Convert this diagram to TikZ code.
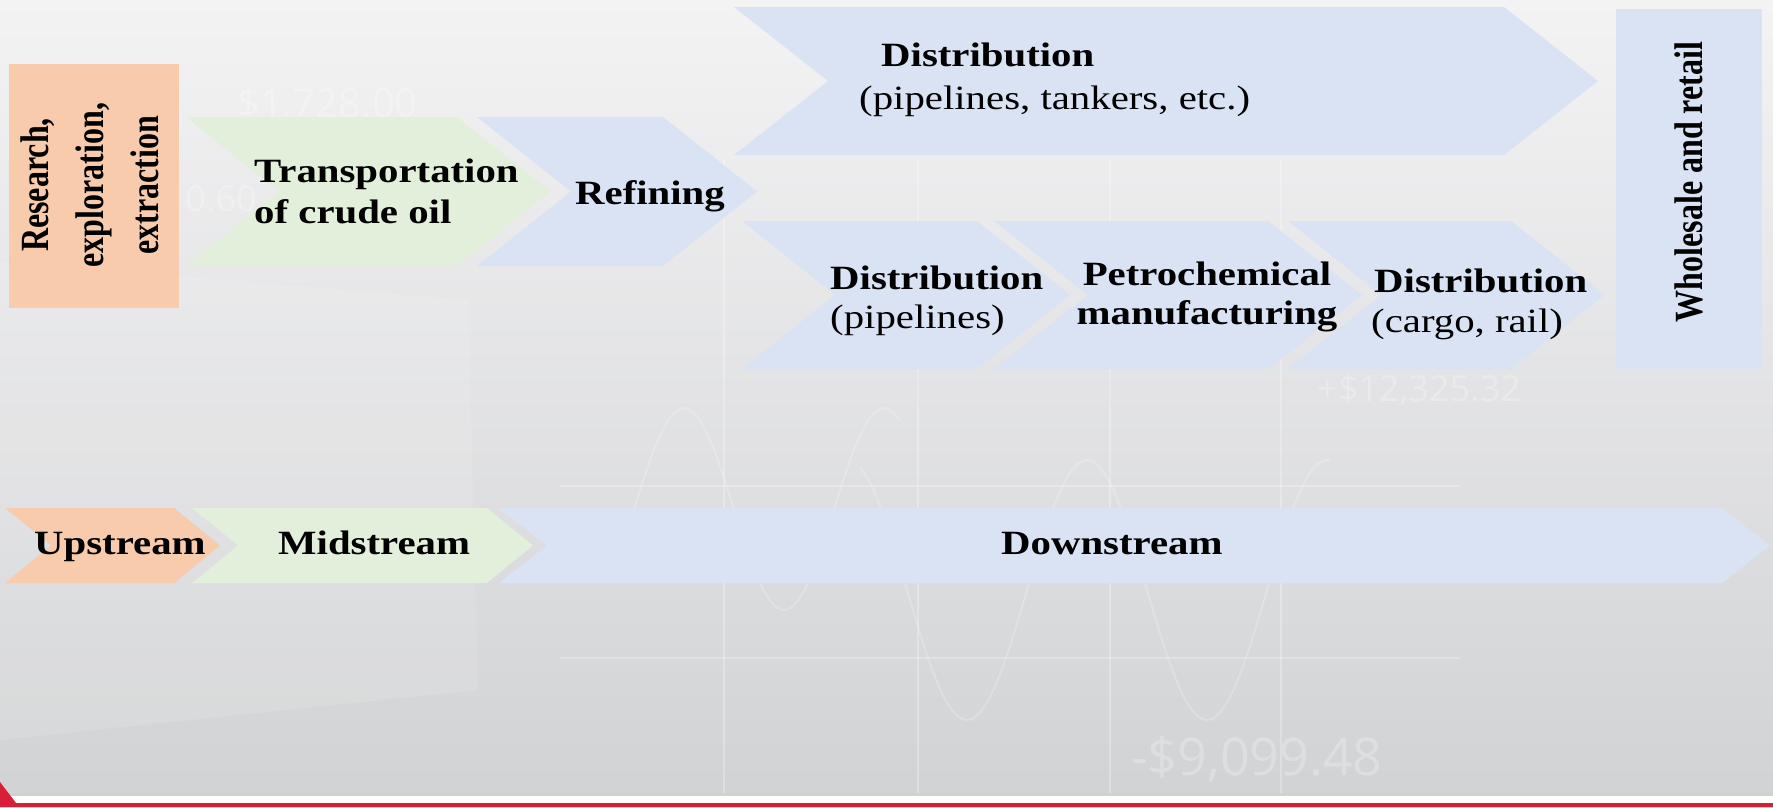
\documentclass[tikz,border=0pt]{standalone}
\usepackage{fontspec}
\setmainfont{Liberation Serif}
\newfontfamily\hfont[FakeStretch=1.2]{Liberation Serif}
\newfontfamily\numfont{Open Sans}

\definecolor{orangeF}{RGB}{248,203,173}
\definecolor{greenF}{RGB}{226,239,218}
\definecolor{blueF}{RGB}{218,227,243}
\definecolor{bgtop}{RGB}{243,243,244}
\definecolor{bgbot}{RGB}{209,210,212}
\definecolor{redbar}{RGB}{216,30,56}
\definecolor{greenline}{RGB}{200,214,204}

\newcommand\chevshape[6]{%
  \fill[#1] (#2,#4) -- (#3,#4) -- ({#3+#6},{(#4+#5)/2}) -- (#3,#5) -- (#2,#5) -- ({#2+#6},{(#4+#5)/2}) -- cycle;}

\tikzset{
  lbl/.style={font=\hfont\fontsize{34}{41}\selectfont\bfseries, inner sep=0pt, text=black},
  lblr/.style={font=\hfont\fontsize{34}{41}\selectfont, inner sep=0pt, text=black},
  vlbl/.style={rotate=90, inner sep=0pt, text=black, font=\fontsize{32}{44}\selectfont\bfseries},
  deco/.style={white, opacity=0.28, line width=2pt},
  ghost/.style={text=white, text opacity=0.25, inner sep=0pt},
}

\begin{document}
\begin{tikzpicture}[x=1pt, y=-1pt]
\useasboundingbox (0,0) rectangle (1773,807);

% background
\shade[top color=bgtop, bottom color=bgbot] (0,0) rectangle (1773,807);
\fill[white, opacity=0.1] (0,262) -- (468,300) -- (478,690) -- (0,740) -- cycle;

% faint chart grid and curves
\foreach \gx in {724,918,1110,1281} {\draw[deco] (\gx,160) -- (\gx,793);}
\foreach \gy in {486,658} {\draw[deco] (560,\gy) -- (1460,\gy);}
\draw[deco, opacity=0.2] plot[smooth, domain=620:900, samples=50] (\x, {509 - 101*cos((\x-684)*1.8)});
\draw[deco, opacity=0.2] plot[smooth, domain=860:1330, samples=60] (\x, {590 + 130*cos((\x-967)*1.5)});

% faint numbers
\node[ghost, anchor=base west, font=\numfont\fontsize{40}{40}\selectfont] (g1) at (237,117) {\$1,728.00};
\node[ghost, anchor=base east, font=\numfont\fontsize{36}{36}\selectfont] (g2) at (257,211) {0.60};
\node[ghost, anchor=base west, font=\numfont\fontsize{36}{36}\selectfont] (g3) at (1317,401) {+\$12,325.32};
\node[ghost, anchor=base west, font=\numfont\fontsize{52}{52}\selectfont] (g4) at (1131,775) {-\$9,099.48};

% boxes and chevrons (top)
\fill[orangeF] (9,64) rectangle (179,308);
\chevshape{greenF}{186}{457}{117}{266}{93}
\chevshape{blueF}{477}{663}{117}{266}{94}
\chevshape{blueF}{734}{1504}{7}{155}{94}
\chevshape{blueF}{742}{977}{221}{369}{93}
\chevshape{blueF}{994}{1268}{221}{369}{94}
\chevshape{blueF}{1288}{1511}{221}{369}{93}
\fill[blueF] (1616,9) rectangle (1762,369);

% chevrons (bottom)
\chevshape{orangeF}{5}{174}{508}{583}{46}
\chevshape{greenF}{192}{487}{508}{583}{46}
\chevshape{blueF}{499}{1722}{508}{583}{48}

% labels
\node[vlbl] (research) at (92,185) {\scalebox{1}[1.25]{\begin{tabular}{@{}c@{}}Research,\\exploration,\\extraction\end{tabular}}};
\node[lbl, anchor=base west] (trans1) at (254,182) {Transportation};
\node[lbl, anchor=base west] (trans2) at (254,223) {of crude oil};
\node[lbl, anchor=base west] (refin) at (575,204) {Refining};
\node[lbl, anchor=base west] (dtop1) at (881,66) {Distribution};
\node[lblr, anchor=base west] (dtop2) at (859,109) {(pipelines, tankers, etc.)};
\node[lbl, anchor=base west] (dpipe1) at (830,289) {Distribution};
\node[lblr, anchor=base west] (dpipe2) at (830,328) {(pipelines)};
\node[lbl, anchor=base] (petro1) at (1207,285) {Petrochemical};
\node[lbl, anchor=base] (petro2) at (1207,324) {manufacturing};
\node[lbl, anchor=base west] (dcargo1) at (1374,292) {Distribution};
\node[lblr, anchor=base west] (dcargo2) at (1371,332) {(cargo, rail)};
\node[vlbl] (whole) at (1689,182) {\scalebox{1}[1.25]{Wholesale and retail}};
\node[lbl, anchor=base west] (up) at (34,554) {Upstream};
\node[lbl, anchor=base west] (mid) at (278,554) {Midstream};
\node[lbl, anchor=base west] (down) at (1001,554) {Downstream};

% bottom strip
\fill[greenline] (0,793) rectangle (1773,796);
\fill[white] (0,796) rectangle (1773,803);
\fill[redbar] (0,803) rectangle (1773,807);
\fill[redbar] (0,782) -- (16,803) -- (0,803) -- cycle;
\end{tikzpicture}
\end{document}
